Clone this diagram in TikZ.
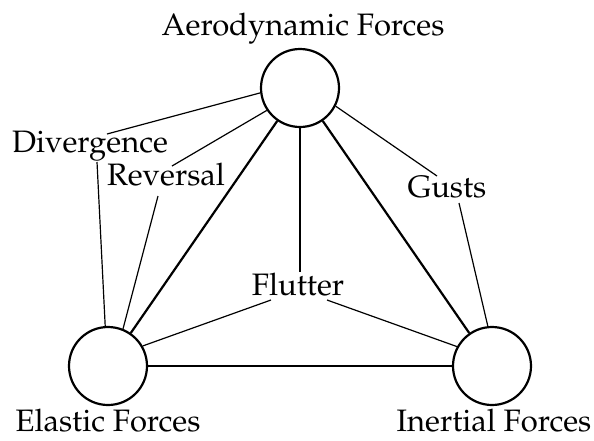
\documentclass[tikz,border=0pt]{standalone}
\usepackage[T1]{fontenc}
\usepackage{mathpazo}
\begin{document}
\begin{tikzpicture}[x=1pt,y=-1pt,
  thinline/.style={line width=1.2pt},
  thickline/.style={line width=2.2pt},
  force/.style={draw, circle, line width=2.2pt, minimum size=78pt, inner sep=0pt},
  lbl/.style={anchor=base, inner sep=0pt, font=\fontsize{31}{37}\selectfont}]
\useasboundingbox (0,0) rectangle (594,440);
% force circles
\node[force] (T) at (300,88) {};
\node[force] (L) at (108,366) {};
\node[force] (R) at (492,366) {};
% labels
\node[lbl] (aero) at (303,35) {Aerodynamic Forces};
\node[lbl] (elas) at (108,431) {Elastic Forces};
\node[lbl] (iner) at (494,431) {Inertial Forces};
\node[lbl] (div) at (90,152) {Divergence};
\node[lbl] (rev) at (166,185) {Reversal};
\node[lbl] (gus) at (447,197) {Gusts};
\node[lbl] (flu) at (298,295) {Flutter};
% connector ends at the labels
\coordinate (divA) at (107,134);
\coordinate (divB) at (97,162);
\coordinate (revA) at (172,166);
\coordinate (revB) at (158,196);
\coordinate (gusA) at (437,176);
\coordinate (gusB) at (459,203);
\coordinate (fluA) at (300,272);
\coordinate (fluB) at (271,300);
\coordinate (fluC) at (327,300);
% thick triangle
\draw[thickline] (T) -- (L);
\draw[thickline] (T) -- (R);
\draw[thickline] (L) -- (R);
% thin connectors
\draw[thinline] (divA) -- (T.187);
\draw[thinline] (divB) -- (L.94);
\draw[thinline] (revA) -- (T.214);
\draw[thinline] (revB) -- (L.68);
\draw[thinline] (gusA) -- (T.333);
\draw[thinline] (gusB) -- (R.96);
\draw[thinline] (fluA) -- (T.270);
\draw[thinline] (fluB) -- (L.30);
\draw[thinline] (fluC) -- (R.151);
\end{tikzpicture}
\end{document}
